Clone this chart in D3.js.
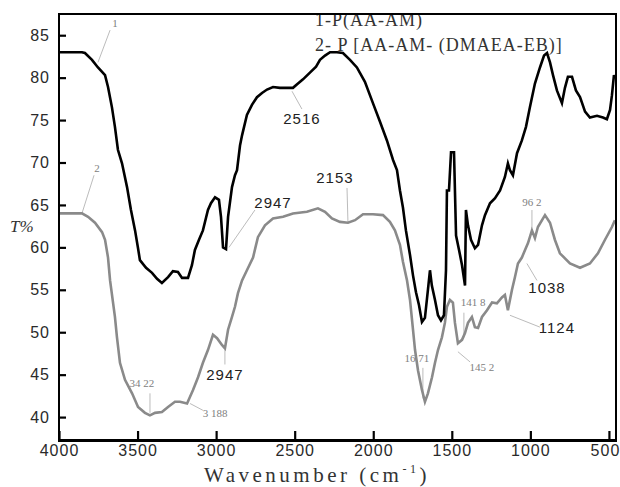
<!DOCTYPE html>
<html>
<head>
<meta charset="UTF-8">
<title>FTIR</title>
<script src="https://d3js.org/d3.v7.min.js"></script>
<style>
  body { margin: 0; background: #fff; }
  .tick-label { font: 16px "Liberation Sans", Arial, sans-serif; fill: #2a2a2a; letter-spacing: 1px; }
  .note-sans { font: 15px "Liberation Sans", Arial, sans-serif; fill: #222; letter-spacing: 1px; }
  .note-serif { font: 11px "Liberation Serif", "Times New Roman", serif; fill: #808080; }
  .lead { stroke: #aaa; stroke-width: 0.8; fill: none; }
</style>
</head>
<body>
<script>
// spectrum 1: P(AA-AM)  [wavenumber, T%]
var curve1 = [
  [4000,83.0],[3854,83.0],[3835,82.9],[3790,82.1],[3752,81.2],[3707,80.3],[3688,78.9],
  [3663,76.5],[3644,74.2],[3625,71.5],[3599,69.9],[3567,67.1],[3542,64.4],[3516,62.0],
  [3497,59.9],[3485,58.5],[3446,57.6],[3408,57.0],[3376,56.3],[3345,55.8],[3306,56.5],
  [3275,57.2],[3243,57.1],[3217,56.4],[3179,56.4],[3154,57.9],[3135,59.7],[3109,60.9],
  [3084,62.0],[3052,64.4],[3033,65.2],[3007,65.9],[2982,65.6],[2969,63.6],[2956,60.0],
  [2937,59.8],[2924,63.6],[2899,67.1],[2880,68.5],[2867,69.1],[2848,72.0],[2835,73.2],
  [2804,75.6],[2772,76.8],[2740,77.7],[2708,78.2],[2676,78.6],[2638,78.9],[2594,78.8],
  [2549,78.8],[2511,78.8],[2479,79.3],[2447,79.8],[2403,80.6],[2364,81.3],[2339,82.1],
  [2307,82.6],[2275,83.0],[2231,83.0],[2193,82.9],[2148,82.1],[2104,81.2],[2053,79.5],
  [2002,77.0],[1957,74.8],[1913,72.6],[1874,70.3],[1849,69.1],[1830,66.7],[1811,64.7],
  [1792,62.0],[1766,59.1],[1747,56.7],[1728,54.7],[1709,53.2],[1690,51.2],[1671,51.7],
  [1652,55.0],[1639,57.3],[1627,55.5],[1607,53.8],[1588,52.0],[1569,51.4],[1550,52.0],
  [1537,57.3],[1531,66.7],[1518,66.7],[1505,71.2],[1486,71.2],[1473,61.4],[1454,59.7],
  [1435,57.9],[1416,55.5],[1410,64.4],[1397,62.6],[1378,60.9],[1353,59.9],[1333,60.3],
  [1308,62.6],[1289,63.8],[1257,65.2],[1225,65.8],[1193,66.7],[1162,68.3],[1143,69.9],
  [1130,69.1],[1111,68.5],[1085,71.1],[1054,72.6],[1028,74.2],[1003,76.5],[971,79.3],
  [939,81.2],[913,82.6],[894,82.9],[875,81.8],[856,80.3],[831,78.5],[799,77.0],
  [780,78.8],[761,80.1],[735,80.1],[710,78.5],[684,77.7],[652,76.0],[621,75.3],
  [576,75.5],[538,75.3],[513,75.1],[493,76.2],[481,77.9],[468,80.3],[462,79.9]
];

// spectrum 2: P[AA-AM-(DMAEA-EB)]
var curve2 = [
  [4000,64.0],[3854,64.0],[3815,63.6],[3771,62.9],[3726,61.8],[3707,60.9],[3688,58.8],
  [3675,56.1],[3644,51.8],[3631,49.4],[3612,46.4],[3580,44.4],[3535,42.8],[3497,41.2],
  [3453,40.5],[3421,40.2],[3389,40.5],[3345,40.6],[3306,41.2],[3262,41.8],[3230,41.8],
  [3185,41.6],[3166,42.4],[3147,43.2],[3115,44.7],[3084,46.4],[3052,47.9],[3020,49.7],
  [2994,49.3],[2963,48.5],[2944,48.1],[2924,50.3],[2899,51.8],[2880,53.0],[2861,54.6],
  [2835,56.1],[2804,57.3],[2765,58.8],[2734,61.2],[2689,62.6],[2638,63.4],[2574,63.6],
  [2511,64.0],[2422,64.2],[2352,64.6],[2307,64.2],[2263,63.4],[2212,63.0],[2161,62.9],
  [2116,63.2],[2065,63.9],[2002,63.9],[1938,63.8],[1894,63.0],[1862,62.0],[1830,60.3],
  [1811,58.3],[1785,56.1],[1766,53.8],[1747,50.3],[1734,47.9],[1715,45.5],[1690,43.2],
  [1671,41.8],[1652,42.8],[1626,44.7],[1607,46.4],[1588,47.9],[1563,49.4],[1544,51.1],
  [1531,53.0],[1512,53.8],[1493,53.5],[1480,51.1],[1461,48.7],[1435,49.1],[1416,49.9],
  [1397,51.1],[1372,51.8],[1353,50.6],[1333,50.5],[1308,51.8],[1276,52.6],[1244,53.5],
  [1213,53.4],[1181,54.1],[1162,54.4],[1143,52.6],[1117,55.0],[1098,56.5],[1079,58.1],
  [1054,58.8],[1034,59.7],[1015,60.5],[990,62.0],[971,61.1],[952,62.4],[907,63.8],
  [875,62.9],[844,60.9],[812,59.3],[748,58.1],[684,57.6],[621,58.1],[570,59.3],
  [525,60.9],[481,62.4],[462,63.2]
];

var xTicks = [4000, 3500, 3000, 2500, 2000, 1500, 1000, 500];
var yTicks = [40, 45, 50, 55, 60, 65, 70, 75, 80, 85];

var legendLines = ["1-P(AA-AM)", "2- P [AA-AM- (DMAEA-EB)]"];

// label text, text anchor [w, T], leader start [w, T], leader end [w, T], style
var notes = [
  ["1",     [3644,86.4], [3675,85.6], [3752,81.8], "serif"],
  ["2",     [3758,69.3], [3777,68.5], [3854,64.0], "serif"],
  ["2516",  [2454,75.2], [2454,76.3], [2517,78.4], "sans"],
  ["2947",  [2638,65.2], [2753,64.4], [2918,60.0], "sans"],
  ["2153",  [2244,68.2], [2167,67.0], [2161,63.0], "sans"],
  ["2947",  [2944,45.0], [2944,47.9], [2944,46.2], "sans"],
  ["34 22", [3472,44.0], [3421,42.8], [3421,40.5], "serif"],
  ["3 188", [3007,40.5], [3084,40.8], [3166,41.6], "serif"],
  ["16 71", [1722,47.0], [1684,45.8], [1684,42.2], "serif"],
  ["141 8", [1365,53.5], [1423,52.3], [1423,49.4], "serif"],
  ["145 2", [1308,45.9], [1384,46.5], [1461,47.7], "serif"],
  ["1124",  [831,50.5],  [939,50.6],  [1130,52.0], "sans"],
  ["1038",  [894,55.2],  [958,56.1],  [1022,58.1], "sans"],
  ["96 2",  [990,65.3],  [990,64.4],  [990,62.3],  "serif"]
];

var W = 620, H = 487;
var x = d3.scaleLinear().domain([4000, 455]).range([59, 616]);
var y = d3.scaleLinear().domain([37.3, 87.5]).range([440, 14]);

var svg = d3.select("body").append("svg")
  .attr("width", W).attr("height", H);

svg.append("defs").append("clipPath").attr("id", "plot")
  .append("rect").attr("x", 59).attr("y", 14).attr("width", 557).attr("height", 426);

var g = svg.append("g").attr("clip-path", "url(#plot)");

// leader lines
g.selectAll(".lead").data(notes).enter().append("line")
  .attr("class", "lead")
  .attr("x1", d => x(d[2][0])).attr("y1", d => y(d[2][1]))
  .attr("x2", d => x(d[3][0])).attr("y2", d => y(d[3][1]));

var line = d3.line().x(d => x(d[0])).y(d => y(d[1]));

g.append("path").datum(curve2)
  .attr("d", line)
  .attr("fill", "none").attr("stroke", "#8a8a8a").attr("stroke-width", 2.6)
  .attr("stroke-linejoin", "miter");

g.append("path").datum(curve1)
  .attr("d", line)
  .attr("fill", "none").attr("stroke", "#000").attr("stroke-width", 2.6)
  .attr("stroke-linejoin", "miter");

// legend (clipped at the top frame like in the figure)
g.selectAll(".leg").data(legendLines).enter().append("text")
  .attr("x", x(2371))
  .attr("y", (d, i) => 26 + i * 25)
  .style("font", '18px "Liberation Serif", "Times New Roman", serif')
  .style("letter-spacing", "1px")
  .style("fill", "#333")
  .text(d => d);

g.selectAll(".note").data(notes).enter().append("text")
  .attr("class", d => d[4] == "sans" ? "note-sans" : "note-serif")
  .attr("x", d => x(d[1][0]))
  .attr("y", d => y(d[1][1]))
  .attr("dy", "0.35em")
  .attr("text-anchor", "middle")
  .text(d => d[0]);

// frame
svg.append("rect")
  .attr("x", 59).attr("y", 14).attr("width", 557).attr("height", 426)
  .attr("fill", "none").attr("stroke", "#000").attr("stroke-width", 2);
svg.append("line")
  .attr("x1", 58).attr("x2", 617).attr("y1", 440.5).attr("y2", 440.5)
  .attr("stroke", "#000").attr("stroke-width", 3);

// axes with inward ticks
var xAxis = svg.append("g").attr("transform", "translate(0,440)")
  .call(d3.axisBottom(x).tickValues(xTicks).tickFormat(d3.format("d"))
    .tickSizeInner(-9).tickSizeOuter(0).tickPadding(5));
var yAxis = svg.append("g").attr("transform", "translate(59,0)")
  .call(d3.axisLeft(y).tickValues(yTicks).tickFormat(d3.format("d"))
    .tickSizeInner(-7).tickSizeOuter(0).tickPadding(9));

[xAxis, yAxis].forEach(function(a) {
  a.select(".domain").remove();
  a.selectAll(".tick line").attr("stroke", "#000").attr("stroke-width", 2.2);
  a.selectAll(".tick text").attr("class", "tick-label").attr("fill", null);
});
// last x label sits against the right edge of the figure
xAxis.selectAll(".tick text").filter(d => d == 500).attr("dx", -4);

// axis titles
svg.append("text")
  .attr("x", 10).attr("y", 232)
  .style("font", 'italic 17px "Liberation Serif", "Times New Roman", serif')
  .style("fill", "#333")
  .text("T%");

var xt = svg.append("text")
  .attr("x", 317).attr("y", 482)
  .attr("text-anchor", "middle")
  .style("font", '21px "Liberation Serif", "Times New Roman", serif')
  .style("fill", "#333")
  .style("letter-spacing", "3.5px");
xt.append("tspan").text("Wavenumber (cm");
xt.append("tspan").attr("dy", -9).style("font-size", "12px").text("-1");
xt.append("tspan").attr("dy", 9).text(")");
</script>
</body>
</html>
